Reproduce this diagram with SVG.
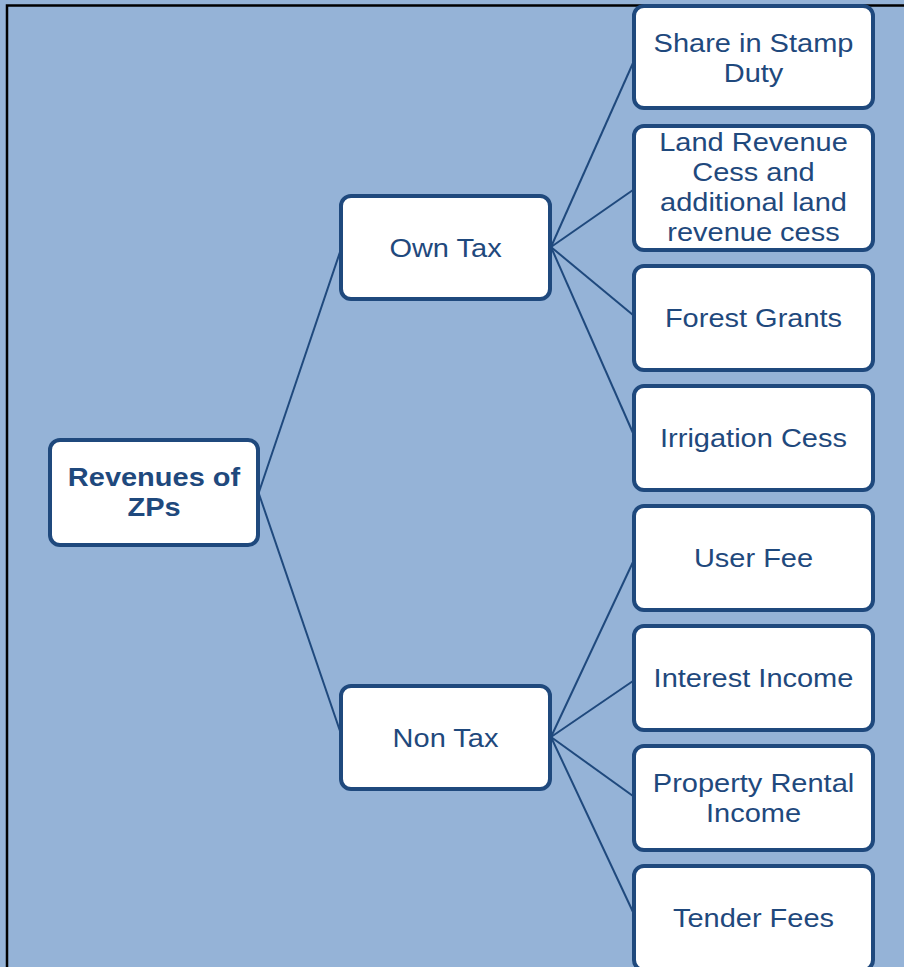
<svg xmlns="http://www.w3.org/2000/svg" width="904" height="967" viewBox="0 0 904 967">
<style>
.node rect{fill:#ffffff;stroke:#1F497D;stroke-width:4}
.node text{font-family:"Liberation Sans",Arial,sans-serif;font-size:25px;fill:#1F497D;text-anchor:middle}
.node text.b{font-weight:bold}
#connectors line{stroke:#1F497D;stroke-width:2}
</style>
<rect x="0" y="0" width="904" height="967" fill="#95B3D7"/>
<rect x="7" y="5.5" width="1000" height="1000" fill="none" stroke="#000000" stroke-width="2.5"/>
<g id="connectors">
<line x1="259" y1="492" x2="340" y2="252"/>
<line x1="259" y1="494" x2="340" y2="731"/>
<line x1="551" y1="247" x2="633" y2="63"/>
<line x1="551" y1="247" x2="633" y2="190"/>
<line x1="551" y1="247" x2="633" y2="315"/>
<line x1="551" y1="247" x2="633" y2="433"/>
<line x1="551" y1="737" x2="633" y2="562"/>
<line x1="551" y1="737" x2="633" y2="681"/>
<line x1="551" y1="737" x2="633" y2="796"/>
<line x1="551" y1="737" x2="633" y2="912"/>
</g>
<g id="root" class="node">
<rect x="50" y="440" width="208" height="105" rx="10"/>
<g transform="translate(154,0) scale(1.16,1)"><text class="b" x="0" y="486">Revenues of</text><text class="b" x="0" y="516">ZPs</text></g>
</g>
<g id="own-tax" class="node">
<rect x="341" y="196" width="209" height="103" rx="10"/>
<g transform="translate(445.5,0) scale(1.16,1)"><text x="0" y="257">Own Tax</text></g>
</g>
<g id="non-tax" class="node">
<rect x="341" y="686" width="209" height="103" rx="10"/>
<g transform="translate(445.5,0) scale(1.16,1)"><text x="0" y="747">Non Tax</text></g>
</g>
<g id="stamp-duty" class="node">
<rect x="634" y="6" width="239" height="102" rx="10"/>
<g transform="translate(753.5,0) scale(1.16,1)"><text x="0" y="52">Share in Stamp</text><text x="0" y="82">Duty</text></g>
</g>
<g id="land-revenue" class="node">
<rect x="634" y="126" width="239" height="124" rx="10"/>
<g transform="translate(753.5,0) scale(1.16,1)"><text x="0" y="151">Land Revenue</text><text x="0" y="181">Cess and</text><text x="0" y="211">additional land</text><text x="0" y="241">revenue cess</text></g>
</g>
<g id="forest-grants" class="node">
<rect x="634" y="266" width="239" height="104" rx="10"/>
<g transform="translate(753.5,0) scale(1.16,1)"><text x="0" y="327">Forest Grants</text></g>
</g>
<g id="irrigation-cess" class="node">
<rect x="634" y="386" width="239" height="104" rx="10"/>
<g transform="translate(753.5,0) scale(1.16,1)"><text x="0" y="447">Irrigation Cess</text></g>
</g>
<g id="user-fee" class="node">
<rect x="634" y="506" width="239" height="104" rx="10"/>
<g transform="translate(753.5,0) scale(1.16,1)"><text x="0" y="567">User Fee</text></g>
</g>
<g id="interest-income" class="node">
<rect x="634" y="626" width="239" height="104" rx="10"/>
<g transform="translate(753.5,0) scale(1.16,1)"><text x="0" y="687">Interest Income</text></g>
</g>
<g id="property-rental" class="node">
<rect x="634" y="746" width="239" height="104" rx="10"/>
<g transform="translate(753.5,0) scale(1.16,1)"><text x="0" y="792">Property Rental</text><text x="0" y="822">Income</text></g>
</g>
<g id="tender-fees" class="node">
<rect x="634" y="866" width="239" height="104" rx="10"/>
<g transform="translate(753.5,0) scale(1.16,1)"><text x="0" y="927">Tender Fees</text></g>
</g>
</svg>
